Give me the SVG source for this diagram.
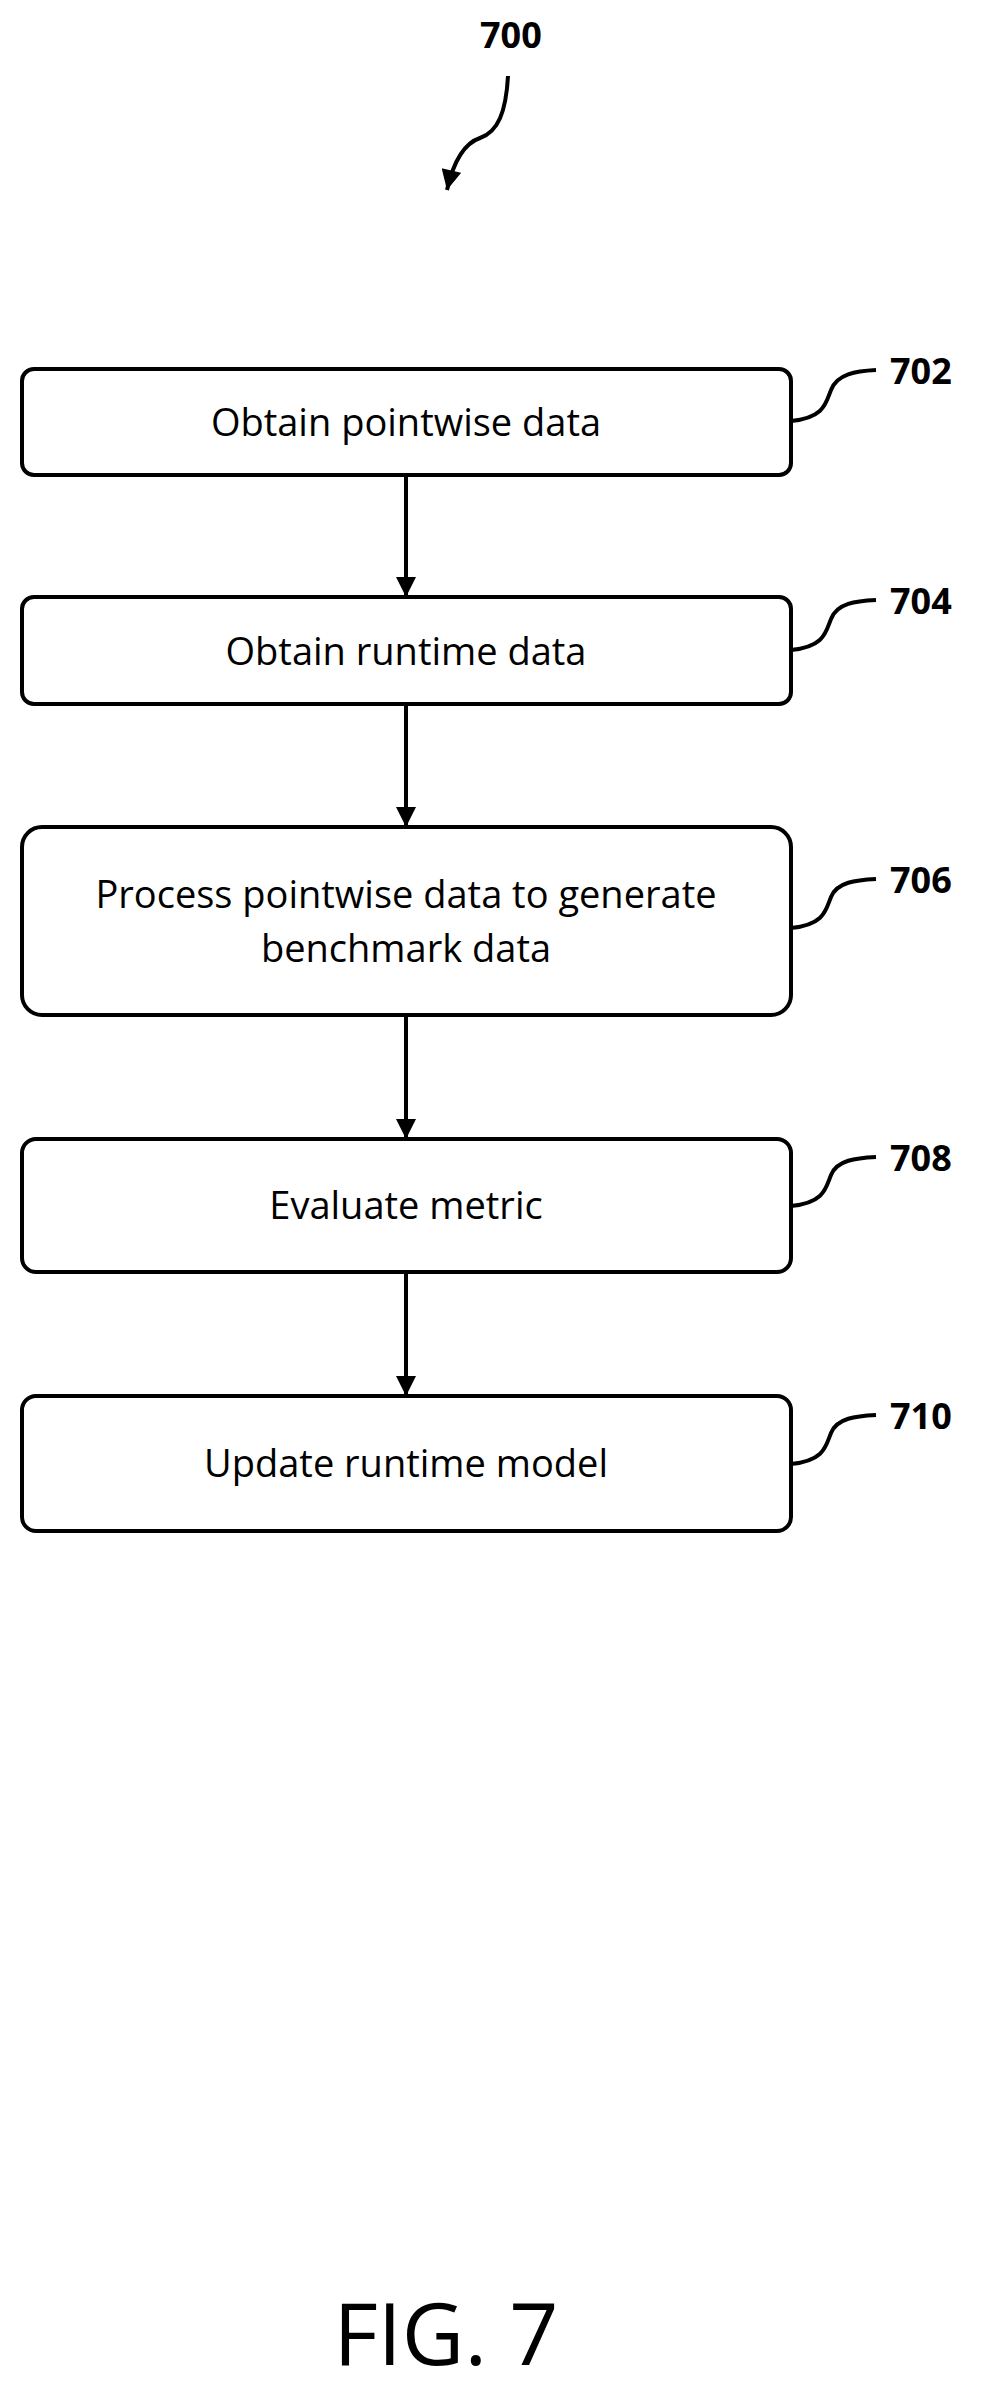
<svg xmlns="http://www.w3.org/2000/svg" width="986" height="2398" viewBox="0 0 986 2398">
<defs>
<style>
.box{fill:#fff;stroke:#000;stroke-width:4}
.t{font-family:"Open Sans","Liberation Sans",sans-serif;font-size:38px;text-anchor:middle}
.lbl{font-family:"Open Sans","Liberation Sans",sans-serif;font-size:36px;font-weight:bold}
.ln{fill:none;stroke:#000;stroke-width:4}
</style>
<marker id="a" viewBox="0 0 10 10" refX="10" refY="5" markerWidth="6" markerHeight="5" orient="auto"><path d="M0,0L10,5L0,10z"/></marker>
</defs>
<rect width="986" height="2398" fill="#fff"/>
<text class="lbl" x="480" y="48">700</text>
<path class="ln" d="M508,76 C506,112 498,132 480,138 C462,144 452,168 447,190" marker-end="url(#a)"/>
<g id="n702"><rect class="box" x="22" y="369" width="769" height="106" rx="12"/><text class="t" x="406" y="436">Obtain pointwise data</text><path class="ln" d="M791,421 C825,418 826,402 831,390 C837,374 856,371 876,370"/><text class="lbl" x="890" y="384">702</text></g>
<g id="n704"><rect class="box" x="22" y="597" width="769" height="107" rx="12"/><text class="t" x="406" y="665">Obtain runtime data</text><path class="ln" d="M791,650 C825,647 826,631 831,619 C837,603 856,601 876,600"/><text class="lbl" x="890" y="614">704</text></g>
<g id="n706"><rect class="box" x="22" y="827" width="769" height="188" rx="20"/><text class="t" x="406" y="908">Process pointwise data to generate</text><text class="t" x="406" y="962">benchmark data</text><path class="ln" d="M791,928 C825,925 826,909 831,897 C837,882 856,880 876,879"/><text class="lbl" x="890" y="893">706</text></g>
<g id="n708"><rect class="box" x="22" y="1139" width="769" height="133" rx="14"/><text class="t" x="406" y="1219">Evaluate metric</text><path class="ln" d="M791,1206 C825,1203 826,1187 831,1175 C837,1160 856,1158 876,1157"/><text class="lbl" x="890" y="1171">708</text></g>
<g id="n710"><rect class="box" x="22" y="1396" width="769" height="135" rx="14"/><text class="t" x="406" y="1477">Update runtime model</text><path class="ln" d="M791,1464 C825,1461 826,1445 831,1433 C837,1418 856,1416 876,1415"/><text class="lbl" x="890" y="1429">710</text></g>
<g id="connectors">
<path class="ln" d="M406,475V597" marker-end="url(#a)"/>
<path class="ln" d="M406,704V827" marker-end="url(#a)"/>
<path class="ln" d="M406,1015V1139" marker-end="url(#a)"/>
<path class="ln" d="M406,1272V1396" marker-end="url(#a)"/>
</g>
<text x="446" y="2365" font-family="Open Sans, Liberation Sans, sans-serif" font-size="86" text-anchor="middle">FIG. 7</text>
</svg>
